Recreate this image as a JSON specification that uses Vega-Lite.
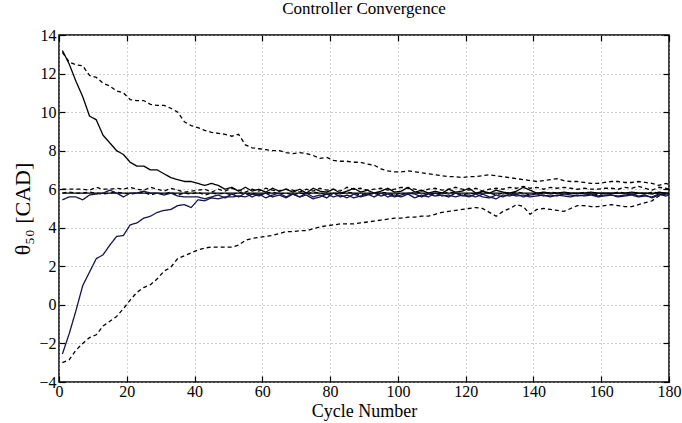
{
  "$schema": "https://vega.github.io/schema/vega-lite/v6.json",
  "width": 610,
  "height": 347,
  "autosize": "none",
  "padding": {"left": 59, "top": 35, "right": 13, "bottom": 41},
  "background": "white",
  "config": {
    "font": "Liberation Serif",
    "view": {"stroke": "black", "strokeWidth": 1.5},
    "axis": {
      "domain": false,
      "grid": true,
      "gridColor": "#a0a0a0",
      "gridDash": [1, 3],
      "gridWidth": 1,
      "tickColor": "black",
      "tickSize": -6,
      "tickWidth": 1.2,
      "labelFont": "Liberation Serif",
      "labelFontSize": 16,
      "labelColor": "black",
      "titleFont": "Liberation Serif",
      "titleFontWeight": "normal",
      "titleColor": "black"
    },
    "title": {"font": "Liberation Serif", "fontSize": 17, "fontWeight": "normal", "color": "black", "offset": 9}
  },
  "title": "Controller Convergence",
  "data": {"values": [
    {"x":1,"A":13.2,"B":-2.55,"C":13.1,"D":-3.0,"E":5.45,"F":5.8,"G":6.0,"H":5.8},
    {"x":3,"A":12.5,"B":-1.5,"C":12.6,"D":-2.85,"E":5.6,"G":6.0,"H":5.85},
    {"x":5,"A":11.6,"B":-0.3,"C":12.45,"D":-2.35,"E":5.6,"G":6.0,"H":5.8},
    {"x":7,"A":10.8,"B":1.0,"C":12.4,"D":-2.0,"E":5.45,"G":6.0,"H":5.8},
    {"x":9,"A":9.8,"B":1.7,"C":11.9,"D":-1.7,"E":5.7,"G":5.95,"H":5.85},
    {"x":11,"A":9.6,"B":2.4,"C":11.8,"D":-1.55,"E":5.75,"G":6.1,"H":5.8},
    {"x":13,"A":8.8,"B":2.6,"C":11.5,"D":-1.1,"E":5.8,"G":6.0,"H":5.75},
    {"x":15,"A":8.4,"B":3.1,"C":11.35,"D":-0.85,"E":5.95,"G":6.0,"H":5.8},
    {"x":17,"A":8.0,"B":3.55,"C":11.1,"D":-0.6,"E":5.8,"G":6.05,"H":5.85},
    {"x":19,"A":7.8,"B":3.6,"C":11.0,"D":-0.2,"E":5.6,"G":6.0,"H":5.8},
    {"x":21,"A":7.4,"B":4.15,"C":10.65,"D":0.25,"E":5.8,"G":6.1,"H":5.75},
    {"x":23,"A":7.2,"B":4.25,"C":10.6,"D":0.65,"E":5.8,"G":6.0,"H":5.8},
    {"x":25,"A":7.2,"B":4.5,"C":10.6,"D":0.9,"E":5.9,"G":5.95,"H":5.85},
    {"x":27,"A":7.0,"B":4.6,"C":10.4,"D":1.05,"E":5.8,"G":6.1,"H":5.7},
    {"x":29,"A":7.0,"B":4.8,"C":10.35,"D":1.35,"E":5.8,"G":6.0,"H":5.8},
    {"x":31,"A":6.8,"B":4.9,"C":10.35,"D":1.75,"E":5.7,"G":5.9,"H":5.75},
    {"x":33,"A":6.6,"B":4.95,"C":10.2,"D":1.95,"E":5.8,"G":6.05,"H":5.85},
    {"x":35,"A":6.5,"B":5.15,"C":10.0,"D":2.4,"E":5.65,"G":5.95,"H":5.7},
    {"x":37,"A":6.4,"B":5.2,"C":9.5,"D":2.55,"E":5.6,"G":5.85,"H":5.8},
    {"x":39,"A":6.4,"B":5.05,"C":9.3,"D":2.7,"E":5.6,"G":5.9,"H":5.75},
    {"x":41,"A":6.3,"B":5.45,"C":9.2,"D":2.85,"E":5.6,"G":5.95,"H":5.85},
    {"x":43,"A":6.2,"B":5.4,"C":9.05,"D":2.95,"E":5.5,"G":6.0,"H":5.7},
    {"x":45,"A":6.3,"B":5.55,"C":8.95,"D":3.0,"E":5.6,"G":5.85,"H":5.8},
    {"x":47,"A":6.2,"B":5.5,"C":8.9,"D":3.0,"E":5.7,"G":6.0,"H":5.75},
    {"x":49,"A":6.0,"B":5.6,"C":8.85,"D":3.0,"E":5.55,"G":5.9,"H":5.8},
    {"x":51,"A":6.1,"B":5.6,"C":8.75,"D":3.0,"E":5.75,"G":6.05,"H":5.7},
    {"x":53,"A":5.9,"B":5.65,"C":8.85,"D":3.1,"E":5.6,"G":5.95,"H":5.85},
    {"x":55,"A":6.1,"B":5.6,"C":8.3,"D":3.35,"E":5.8,"G":5.85,"H":5.75},
    {"x":57,"A":5.9,"B":5.75,"C":8.15,"D":3.45,"E":5.6,"G":6.0,"H":5.8},
    {"x":59,"A":6.0,"B":5.65,"C":8.1,"D":3.5,"E":5.75,"G":5.9,"H":5.7},
    {"x":61,"A":5.85,"B":5.8,"C":8.05,"D":3.55,"E":5.55,"G":6.05,"H":5.8},
    {"x":63,"A":6.05,"B":5.6,"C":8.0,"D":3.6,"E":5.7,"G":5.95,"H":5.85},
    {"x":65,"A":5.9,"B":5.7,"C":8.0,"D":3.7,"E":5.8,"G":5.9,"H":5.75},
    {"x":67,"A":6.0,"B":5.55,"C":7.9,"D":3.8,"E":5.6,"G":6.0,"H":5.8},
    {"x":69,"A":5.85,"B":5.75,"C":7.85,"D":3.8,"E":5.75,"G":5.95,"H":5.7},
    {"x":71,"A":6.0,"B":5.6,"C":7.9,"D":3.85,"E":5.6,"G":5.85,"H":5.8},
    {"x":73,"A":5.8,"B":5.8,"C":7.85,"D":3.85,"E":5.7,"G":6.0,"H":5.75},
    {"x":75,"A":6.05,"B":5.6,"C":7.75,"D":3.95,"E":5.5,"G":5.9,"H":5.85},
    {"x":77,"A":5.9,"B":5.7,"C":7.6,"D":4.05,"E":5.6,"G":6.05,"H":5.8},
    {"x":79,"A":5.85,"B":5.55,"C":7.65,"D":4.1,"E":5.75,"G":5.95,"H":5.7},
    {"x":81,"A":6.0,"B":5.8,"C":7.5,"D":4.15,"E":5.6,"G":6.0,"H":5.8},
    {"x":83,"A":5.8,"B":5.6,"C":7.45,"D":4.2,"E":5.7,"G":5.9,"H":5.75},
    {"x":85,"A":5.9,"B":5.7,"C":7.45,"D":4.2,"E":5.55,"G":6.1,"H":5.85},
    {"x":87,"A":6.05,"B":5.55,"C":7.4,"D":4.2,"E":5.75,"G":6.0,"H":5.8},
    {"x":89,"A":5.85,"B":5.65,"C":7.4,"D":4.25,"E":5.6,"G":6.05,"H":5.7},
    {"x":91,"A":5.95,"B":5.75,"C":7.3,"D":4.3,"E":5.7,"G":5.95,"H":5.8},
    {"x":93,"A":5.8,"B":5.6,"C":7.25,"D":4.35,"E":5.8,"G":6.0,"H":5.75},
    {"x":95,"A":5.9,"B":5.8,"C":7.05,"D":4.4,"E":5.65,"G":6.05,"H":5.85},
    {"x":97,"A":6.05,"B":5.6,"C":6.95,"D":4.45,"E":5.75,"G":5.95,"H":5.8},
    {"x":99,"A":5.85,"B":5.7,"C":6.9,"D":4.5,"E":5.6,"G":6.0,"H":5.7},
    {"x":101,"A":5.9,"B":5.6,"C":6.9,"D":4.5,"E":5.7,"G":6.1,"H":5.8},
    {"x":103,"A":6.1,"B":5.75,"C":6.95,"D":4.55,"E":5.8,"G":6.05,"H":5.75},
    {"x":105,"A":5.85,"B":5.55,"C":6.9,"D":4.55,"E":5.75,"G":6.0,"H":5.85},
    {"x":107,"A":5.95,"B":5.7,"C":6.85,"D":4.6,"E":5.6,"G":5.9,"H":5.8},
    {"x":109,"A":5.8,"B":5.6,"C":6.8,"D":4.6,"E":5.75,"G":6.0,"H":5.7},
    {"x":111,"A":5.9,"B":5.8,"C":6.75,"D":4.7,"E":5.65,"G":6.05,"H":5.8},
    {"x":113,"A":5.8,"B":5.65,"C":6.7,"D":4.8,"E":5.7,"G":5.95,"H":5.75},
    {"x":115,"A":6.0,"B":5.7,"C":6.65,"D":4.85,"E":5.6,"G":6.0,"H":5.85},
    {"x":117,"A":5.85,"B":5.6,"C":6.65,"D":4.9,"E":5.8,"G":6.1,"H":5.8},
    {"x":119,"A":5.9,"B":5.7,"C":6.6,"D":4.95,"E":5.65,"G":6.0,"H":5.7},
    {"x":121,"A":6.05,"B":5.6,"C":6.65,"D":5.0,"E":5.7,"G":5.95,"H":5.8},
    {"x":123,"A":5.8,"B":5.75,"C":6.65,"D":5.05,"E":5.6,"G":6.05,"H":5.75},
    {"x":125,"A":5.9,"B":5.6,"C":6.7,"D":5.0,"E":5.75,"G":5.9,"H":5.85},
    {"x":127,"A":5.8,"B":5.55,"C":6.75,"D":4.8,"E":5.6,"G":6.0,"H":5.8},
    {"x":129,"A":5.95,"B":5.7,"C":6.7,"D":4.6,"E":5.5,"G":6.05,"H":5.7},
    {"x":131,"A":5.85,"B":5.6,"C":6.65,"D":4.85,"E":5.7,"G":6.0,"H":5.8},
    {"x":133,"A":5.8,"B":5.75,"C":6.6,"D":5.0,"E":5.65,"G":6.1,"H":5.75},
    {"x":135,"A":5.9,"B":5.65,"C":6.55,"D":5.2,"E":5.75,"G":6.05,"H":5.85},
    {"x":137,"A":6.1,"B":5.7,"C":6.5,"D":5.1,"E":5.6,"G":6.15,"H":5.8},
    {"x":139,"A":5.95,"B":5.6,"C":6.45,"D":4.7,"E":5.7,"G":6.05,"H":5.7},
    {"x":141,"A":5.8,"B":5.65,"C":6.4,"D":4.95,"E":5.75,"G":6.1,"H":5.8},
    {"x":143,"A":5.85,"B":5.7,"C":6.45,"D":5.0,"E":5.65,"G":6.0,"H":5.75},
    {"x":145,"A":5.8,"B":5.6,"C":6.5,"D":4.95,"E":5.7,"G":6.1,"H":5.85},
    {"x":147,"A":5.8,"B":5.7,"C":6.55,"D":4.9,"E":5.65,"G":6.05,"H":5.8},
    {"x":149,"A":5.85,"B":5.65,"C":6.45,"D":4.85,"E":5.75,"G":6.1,"H":5.7},
    {"x":151,"A":5.8,"B":5.6,"C":6.4,"D":5.0,"E":5.7,"G":6.05,"H":5.8},
    {"x":153,"A":5.8,"B":5.7,"C":6.4,"D":5.15,"E":5.65,"G":6.0,"H":5.75},
    {"x":155,"A":5.8,"B":5.65,"C":6.35,"D":5.15,"E":5.7,"G":6.05,"H":5.85},
    {"x":157,"A":5.85,"B":5.7,"C":6.3,"D":5.1,"E":5.75,"G":6.0,"H":5.8},
    {"x":159,"A":5.8,"B":5.6,"C":6.3,"D":5.1,"E":5.65,"G":6.0,"H":5.7},
    {"x":161,"A":5.8,"B":5.65,"C":6.35,"D":5.15,"E":5.7,"G":6.05,"H":5.8},
    {"x":163,"A":5.8,"B":5.7,"C":6.4,"D":5.2,"E":5.7,"G":6.05,"H":5.75},
    {"x":165,"A":5.8,"B":5.6,"C":6.4,"D":5.15,"E":5.65,"G":6.0,"H":5.85},
    {"x":167,"A":5.8,"B":5.65,"C":6.35,"D":5.1,"E":5.7,"G":6.1,"H":5.8},
    {"x":169,"A":5.85,"B":5.7,"C":6.35,"D":5.1,"E":5.75,"G":6.05,"H":5.7},
    {"x":171,"A":5.8,"B":5.6,"C":6.4,"D":5.2,"E":5.65,"G":6.15,"H":5.8},
    {"x":173,"A":5.8,"B":5.65,"C":6.35,"D":5.3,"E":5.7,"G":6.05,"H":5.75},
    {"x":175,"A":5.75,"B":5.6,"C":6.3,"D":5.4,"E":5.55,"G":5.95,"H":5.85},
    {"x":177,"A":5.85,"B":5.75,"C":6.2,"D":5.65,"E":5.7,"G":6.1,"H":5.8},
    {"x":179,"A":5.8,"B":5.65,"C":6.3,"D":5.8,"E":5.75,"G":6.05,"H":5.7},
    {"x":180,"A":5.8,"B":5.7,"C":6.25,"D":5.85,"E":5.75,"F":5.8,"G":6.0,"H":5.8}
  ]},
  "transform": [
    {"fold": ["C", "D", "G", "H", "F", "A", "E", "B"], "as": ["series", "y"]},
    {"filter": "isValid(datum.y)"}
  ],
  "layer": [
    {
      "mark": {"type": "line", "strokeWidth": 1.3, "clip": true},
      "encoding": {
        "x": {"field": "x", "type": "quantitative", "scale": {"domain": [0, 180], "nice": false},
              "axis": {"values": [0,20,40,60,80,100,120,140,160,180], "title": "Cycle Number", "titleFontSize": 18, "titlePadding": 3, "labelPadding": 7, "labelFlush": false}},
        "y": {"field": "y", "type": "quantitative", "scale": {"domain": [-4, 14], "nice": false},
              "axis": {"values": [-4,-2,0,2,4,6,8,10,12,14], "title": "θ₅₀ [CAD]", "titleFontSize": 22, "titlePadding": 4, "labelPadding": 9}},
        "color": {"field": "series", "type": "nominal", "legend": null,
                  "scale": {"domain": ["A","B","C","D","E","F","G","H"], "range": ["#000000","#14144a","#000000","#000000","#14144a","#000000","#000000","#000000"]}},
        "strokeDash": {"field": "series", "type": "nominal", "legend": null,
                  "scale": {"domain": ["A","B","C","D","E","F","G","H"], "range": [[1,0],[1,0],[4,3],[4,3],[1,0],[1,0],[4,3],[4,3]]}},
        "order": {"field": "x", "type": "quantitative"}
      }
    },
    {
      "mark": {"type": "line", "opacity": 0},
      "encoding": {
        "x": {"field": "x", "type": "quantitative", "scale": {"domain": [0, 180], "nice": false},
              "axis": {"orient": "top", "values": [0,20,40,60,80,100,120,140,160,180], "labels": false, "grid": false, "title": null}},
        "y": {"field": "y", "type": "quantitative", "scale": {"domain": [-4, 14], "nice": false},
              "axis": {"orient": "right", "values": [-4,-2,0,2,4,6,8,10,12,14], "labels": false, "grid": false, "title": null}},
        "detail": {"field": "series"}
      }
    }
  ],
  "resolve": {"axis": {"x": "independent", "y": "independent"}}
}
